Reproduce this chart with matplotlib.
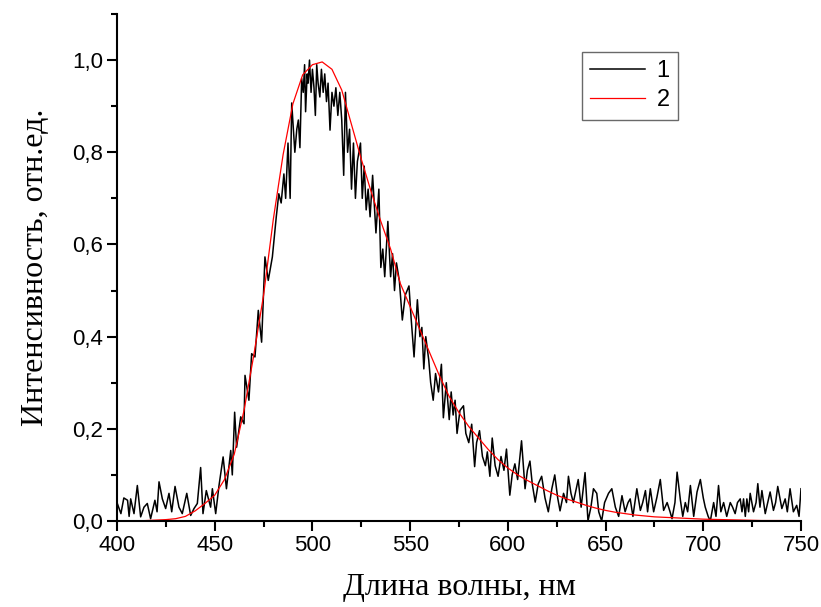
import matplotlib
matplotlib.use('Agg')
import matplotlib.pyplot as plt
from matplotlib.ticker import MultipleLocator, FuncFormatter

black_nm = [400.0, 402.0, 403.5, 405.4, 406.2, 407.0, 408.7, 410.4, 412.1, 413.8,
            415.5, 417.2, 419.4, 420.5, 421.5, 423.2, 424.9, 426.6, 428.0, 429.7,
            431.7, 433.4, 435.7, 437.7, 439.4, 441.1, 442.8, 444.0, 445.7, 447.9,
            448.8, 450.5, 452.2, 454.3, 456.0, 458.2, 459.0, 460.2, 461.2, 463.3,
            465.0, 465.5, 467.5, 468.9, 470.6, 472.3, 474.0, 475.7, 477.4, 479.5,
            481.5, 482.8, 484.0, 485.4, 486.3, 487.5, 488.6, 489.4, 491.0, 492.0,
            492.8, 493.6, 494.5, 495.3, 496.0, 496.5, 497.3, 497.8, 498.5, 499.3,
            500.0, 500.8, 501.5, 502.2, 502.9, 503.8, 504.6, 505.5, 506.3, 507.2,
            508.0, 509.0, 510.0, 511.0, 512.0, 513.0, 514.0, 515.0, 516.0, 516.9,
            518.0, 519.0, 520.0, 521.0, 522.0, 523.0, 524.6, 525.5, 526.5, 527.5,
            528.5, 529.5, 530.8, 532.5, 534.0, 535.0, 536.0, 537.0, 538.6, 540.0,
            541.0, 542.0, 543.0, 544.5, 546.0, 547.5, 549.4, 550.5, 552.0, 553.7,
            555.0, 556.0, 557.0, 558.0, 559.5, 560.5, 561.8, 563.0, 564.5, 566.0,
            567.0, 568.5, 570.0, 571.0, 572.0, 573.0, 574.0, 575.5, 577.3, 578.5,
            580.0, 581.5, 583.0, 584.0, 585.5, 587.0, 588.5, 589.5, 590.8, 592.0,
            593.5, 595.0, 596.5, 598.0, 599.3, 601.0, 602.2, 603.6, 605.0, 607.0,
            608.8, 610.0, 611.3, 612.5, 614.0, 615.5, 617.3, 619.0, 620.7, 622.5,
            624.0, 625.5, 626.7, 628.5, 630.0, 631.0, 632.3, 633.5, 635.0, 636.0,
            637.5, 639.5, 641.0, 642.5, 643.8, 645.5, 646.5, 648.0, 649.5, 651.5,
            653.2, 655.0, 656.7, 658.4, 660.0, 661.5, 662.6, 664.0, 666.0, 667.8,
            669.0, 670.4, 671.5, 672.9, 674.6, 676.3, 678.0, 679.7, 681.5, 683.0,
            684.0, 685.5, 686.6, 688.3, 689.5, 690.8, 692.0, 693.4, 695.1, 696.8,
            698.5, 700.0, 701.0, 702.5, 703.6, 705.3, 706.5, 707.8, 709.0, 710.4,
            712.0, 713.8, 715.0, 716.3, 717.5, 718.9, 719.8, 720.6, 721.5, 722.3,
            723.2, 724.0, 725.7, 727.0, 727.9, 729.0, 730.0, 731.7, 733.0, 734.2,
            735.9, 737.0, 738.1, 740.2, 741.9, 743.0, 744.4, 746.1, 747.8, 749.0,
            750.0]
black_val = [0.04, 0.016, 0.05, 0.045, 0.01, 0.048, 0.016, 0.077, 0.009, 0.03,
             0.038, 0.005, 0.045, 0.02, 0.085, 0.048, 0.027, 0.06, 0.02, 0.075,
             0.03, 0.016, 0.06, 0.012, 0.027, 0.038, 0.116, 0.016, 0.066, 0.03,
             0.07, 0.016, 0.077, 0.139, 0.07, 0.153, 0.10, 0.236, 0.16, 0.226,
             0.211, 0.316, 0.262, 0.363, 0.356, 0.457, 0.388, 0.573, 0.522, 0.573,
             0.66, 0.71, 0.69, 0.753, 0.70, 0.82, 0.70, 0.907, 0.80, 0.85,
             0.87, 0.81, 0.96, 0.93, 0.99, 0.888, 0.97, 0.95, 1.0, 0.93,
             0.98, 0.94, 0.88, 0.99, 0.95, 0.92, 0.98, 0.93, 0.97, 0.91,
             0.95, 0.848, 0.93, 0.90, 0.94, 0.88, 0.93, 0.87, 0.75, 0.93,
             0.80, 0.85, 0.72, 0.82, 0.70, 0.78, 0.82, 0.70, 0.77, 0.675,
             0.72, 0.66, 0.75, 0.625, 0.72, 0.55, 0.59, 0.53, 0.65, 0.53,
             0.58, 0.50, 0.56, 0.52, 0.436, 0.49, 0.51, 0.44, 0.356, 0.48,
             0.40, 0.42, 0.33, 0.40, 0.35, 0.30, 0.262, 0.32, 0.28, 0.34,
             0.224, 0.30, 0.22, 0.28, 0.23, 0.262, 0.19, 0.24, 0.25, 0.19,
             0.17, 0.21, 0.118, 0.17, 0.196, 0.14, 0.12, 0.15, 0.097, 0.18,
             0.12, 0.097, 0.14, 0.11, 0.156, 0.056, 0.10, 0.124, 0.09, 0.174,
             0.07, 0.11, 0.13, 0.08, 0.041, 0.08, 0.097, 0.05, 0.02, 0.07,
             0.1, 0.05, 0.022, 0.06, 0.04, 0.097, 0.06, 0.04, 0.07, 0.09,
             0.03, 0.105, 0.0, 0.03, 0.07, 0.06, 0.02, 0.0, 0.04, 0.06,
             0.07, 0.03, 0.01, 0.055, 0.02, 0.04, 0.048, 0.01, 0.07, 0.023,
             0.04, 0.066, 0.02, 0.07, 0.02, 0.052, 0.09, 0.023, 0.04, 0.02,
             0.005, 0.04, 0.106, 0.045, 0.01, 0.04, 0.02, 0.077, 0.01, 0.063,
             0.09, 0.05, 0.03, 0.01, 0.0, 0.04, 0.01, 0.077, 0.02, 0.04,
             0.01, 0.04, 0.03, 0.016, 0.04, 0.048, 0.02, 0.048, 0.01, 0.048,
             0.02, 0.06, 0.02, 0.04, 0.081, 0.03, 0.066, 0.016, 0.04, 0.063,
             0.023, 0.04, 0.075, 0.027, 0.048, 0.02, 0.07, 0.02, 0.034, 0.01,
             0.07]

# curve 2: smoothed / fitted spectrum
red_nm = [400, 405, 410, 415, 420, 425, 430, 435, 440, 445,
          450, 455, 460, 465, 470, 475, 480, 485, 490, 495,
          500, 505, 510, 515, 520, 525, 530, 535, 540, 545,
          550, 555, 560, 565, 570, 575, 580, 585, 590, 595,
          600, 605, 610, 615, 620, 625, 630, 635, 640, 645,
          650, 655, 660, 665, 670, 675, 680, 685, 690, 695,
          700, 710, 720, 730, 740, 750]
red_val = [0.0, 0.0, 0.0, 0.001, 0.002, 0.003, 0.005, 0.01, 0.022, 0.038,
           0.056, 0.09, 0.145, 0.24, 0.36, 0.49, 0.655, 0.795, 0.905, 0.968,
           0.99, 0.996, 0.98, 0.935, 0.86, 0.785, 0.715, 0.65, 0.59, 0.515,
           0.465, 0.415, 0.365, 0.315, 0.27, 0.235, 0.205, 0.18, 0.155, 0.133,
           0.115, 0.1, 0.088, 0.077, 0.066, 0.056, 0.048, 0.041, 0.034, 0.028,
           0.023, 0.019, 0.016, 0.013, 0.011, 0.009, 0.008, 0.007, 0.006, 0.005,
           0.004, 0.003, 0.002, 0.001, 0.001, 0.0]

series_labels = ['1', '2']

fig = plt.figure(figsize=(8.21, 6.07), dpi=100)
ax = fig.add_axes([117 / 821, 1 - 521 / 607, 684 / 821, 507 / 607])

ax.plot(black_nm, black_val, color='black', lw=1.1, label=series_labels[0])
ax.plot(red_nm, red_val, color='red', lw=0.9, label=series_labels[1])

ax.set_xlim(400, 750)
ax.set_ylim(0, 1.1)

ax.spines['top'].set_visible(False)
ax.spines['right'].set_visible(False)
for s in ('left', 'bottom'):
    ax.spines[s].set_linewidth(1.5)

ax.xaxis.set_major_locator(MultipleLocator(50))
ax.xaxis.set_minor_locator(MultipleLocator(25))
ax.yaxis.set_major_locator(MultipleLocator(0.2))
ax.yaxis.set_minor_locator(MultipleLocator(0.1))
ax.yaxis.set_major_formatter(FuncFormatter(lambda v, p: '{:.1f}'.format(v).replace('.', ',')))

ax.tick_params(which='major', direction='out', length=7, width=1.5,
               labelsize=16, pad=3)
ax.tick_params(which='minor', direction='out', length=4, width=1.5)
for lab in ax.get_xticklabels() + ax.get_yticklabels():
    lab.set_family('Liberation Sans')

ax.set_xlabel('Длина волны, нм', family='Liberation Serif', fontsize=23, labelpad=12)
ax.set_ylabel('Интенсивность, отн.ед.', family='Liberation Serif', fontsize=23, labelpad=16)

leg = ax.legend(loc='upper left', bbox_to_anchor=(0.68, 0.925), fancybox=False,
                prop={'family': 'Liberation Sans', 'size': 17}, handlelength=2.3,
                borderpad=0.35, labelspacing=0.3, handletextpad=0.5,
                borderaxespad=0)
leg.get_frame().set_edgecolor('#444444')
leg.get_frame().set_linewidth(1.0)

fig.savefig('out.png', dpi=100)
